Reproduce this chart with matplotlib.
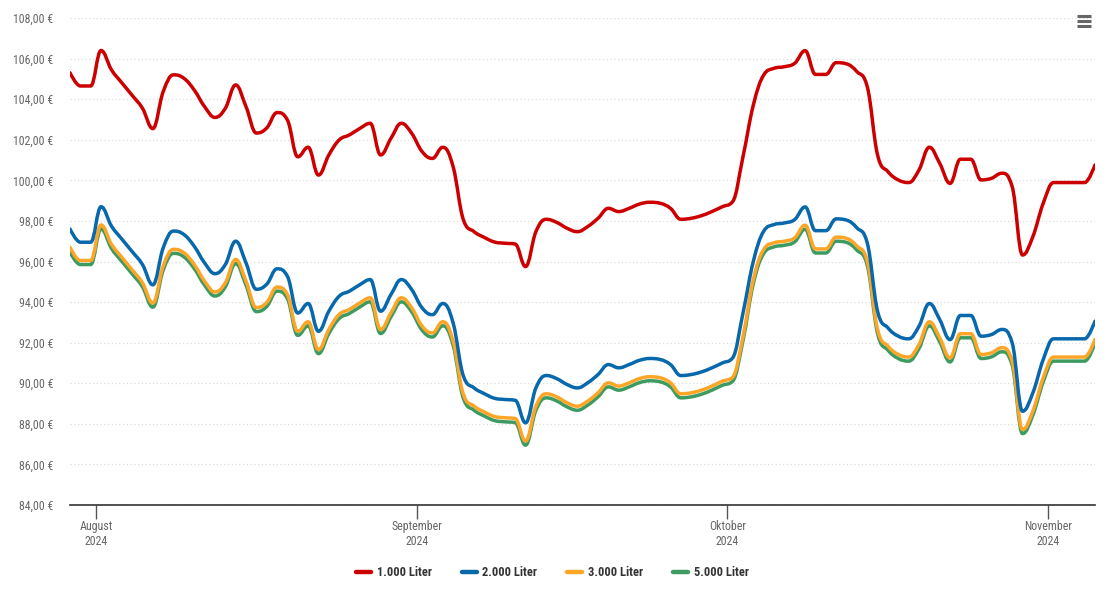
import numpy as np
import pandas as pd
import matplotlib
matplotlib.use("Agg")
import matplotlib.pyplot as plt
import matplotlib.dates as mdates
from matplotlib.path import Path
from matplotlib.patches import PathPatch
from matplotlib.lines import Line2D
from matplotlib import font_manager

# ---------------- data ----------------
start_date = "2024-07-29 12:00"
n_days = 100

series_names = ["1.000 Liter", "2.000 Liter", "3.000 Liter", "5.000 Liter"]
series_colors = ["#cc0000", "#0868ac", "#fca526", "#3d9b62"]

liter_1000 = [105.30, 104.65, 104.65, 106.40, 105.45, 104.81, 104.19, 103.55, 102.55, 104.37,
              105.20, 105.03, 104.45, 103.63, 103.10, 103.55, 104.70, 103.63, 102.33, 102.58,
              103.34, 102.97, 101.16, 101.63, 100.26, 101.25, 101.99, 102.24, 102.56, 102.81,
              101.25, 102.07, 102.81, 102.32, 101.42, 101.08, 101.63, 100.68, 98.05, 97.48,
              97.19, 96.96, 96.90, 96.86, 95.75, 97.47, 98.08, 97.93, 97.64, 97.47,
              97.72, 98.13, 98.62, 98.46, 98.62, 98.83, 98.92, 98.87, 98.62, 98.08,
              98.13, 98.26, 98.46, 98.70, 98.95, 101.16, 103.71, 105.19, 105.52, 105.60,
              105.77, 106.39, 105.22, 105.22, 105.80, 105.74, 105.36, 104.62, 101.25, 100.43,
              100.02, 99.89, 100.51, 101.63, 100.84, 99.85, 101.04, 101.04, 100.02, 100.10,
              100.35, 99.69, 96.32, 97.23, 98.87, 99.89, 99.89, 99.89, 99.89, 100.76]

liter_2000 = [97.60, 96.95, 96.95, 98.70, 97.75, 97.11, 96.49, 95.85, 94.85, 96.67,
              97.50, 97.33, 96.75, 95.93, 95.40, 95.85, 97.00, 95.93, 94.63, 94.88,
              95.64, 95.27, 93.46, 93.93, 92.56, 93.55, 94.29, 94.54, 94.86, 95.11,
              93.55, 94.37, 95.11, 94.62, 93.72, 93.38, 93.93, 92.98, 90.35, 89.78,
              89.49, 89.26, 89.20, 89.16, 88.05, 89.77, 90.38, 90.23, 89.94, 89.77,
              90.02, 90.43, 90.92, 90.76, 90.92, 91.13, 91.22, 91.17, 90.92, 90.38,
              90.43, 90.56, 90.76, 91.00, 91.25, 93.46, 96.01, 97.49, 97.82, 97.90,
              98.07, 98.69, 97.52, 97.52, 98.10, 98.04, 97.66, 96.92, 93.55, 92.73,
              92.32, 92.19, 92.81, 93.93, 93.14, 92.15, 93.34, 93.34, 92.32, 92.40,
              92.65, 91.99, 88.62, 89.53, 91.17, 92.19, 92.19, 92.19, 92.19, 93.06]

liter_3000 = [96.70, 96.05, 96.05, 97.80, 96.85, 96.21, 95.59, 94.95, 93.95, 95.77,
              96.60, 96.43, 95.85, 95.03, 94.50, 94.95, 96.10, 95.03, 93.73, 93.98,
              94.74, 94.37, 92.56, 93.03, 91.66, 92.65, 93.39, 93.64, 93.96, 94.21,
              92.65, 93.47, 94.21, 93.72, 92.82, 92.48, 93.03, 92.08, 89.45, 88.88,
              88.59, 88.36, 88.30, 88.26, 87.15, 88.87, 89.48, 89.33, 89.04, 88.87,
              89.12, 89.53, 90.02, 89.86, 90.02, 90.23, 90.32, 90.27, 90.02, 89.48,
              89.53, 89.66, 89.86, 90.10, 90.30, 92.30, 95.11, 96.59, 96.92, 97.00,
              97.17, 97.79, 96.62, 96.62, 97.20, 97.14, 96.76, 96.02, 92.65, 91.83,
              91.42, 91.29, 91.91, 93.03, 92.24, 91.25, 92.44, 92.44, 91.42, 91.50,
              91.75, 91.09, 87.72, 88.63, 90.27, 91.29, 91.29, 91.29, 91.29, 92.16]

liter_5000 = [96.45, 95.85, 95.85, 97.60, 96.65, 96.01, 95.39, 94.75, 93.75, 95.57,
              96.40, 96.23, 95.65, 94.83, 94.30, 94.75, 95.90, 94.83, 93.53, 93.78,
              94.54, 94.17, 92.36, 92.83, 91.46, 92.45, 93.19, 93.44, 93.76, 94.01,
              92.45, 93.27, 94.01, 93.52, 92.62, 92.28, 92.83, 91.88, 89.25, 88.68,
              88.39, 88.16, 88.10, 88.06, 86.95, 88.67, 89.28, 89.13, 88.84, 88.67,
              88.92, 89.33, 89.82, 89.66, 89.82, 90.03, 90.12, 90.07, 89.82, 89.28,
              89.33, 89.46, 89.66, 89.90, 90.10, 92.10, 94.91, 96.39, 96.72, 96.80,
              96.97, 97.59, 96.42, 96.42, 97.00, 96.94, 96.56, 95.82, 92.45, 91.63,
              91.22, 91.09, 91.71, 92.83, 92.04, 91.05, 92.24, 92.24, 91.22, 91.30,
              91.55, 90.89, 87.52, 88.43, 90.07, 91.09, 91.09, 91.09, 91.09, 91.96]

month_ticks = ["2024-08-01", "2024-09-01", "2024-10-01", "2024-11-01"]
month_labels = ["August\n2024", "September\n2024", "Oktober\n2024", "November\n2024"]
y_ticks = list(range(84, 109, 2))

# ---------------- helpers ----------------
def spline_path(xs, ys, smoothing=1.5):
    """Highcharts-style spline through the data points (bezier path)."""
    n = len(xs)
    denom = smoothing + 1
    lc = [None] * n
    rc = [None] * n
    for i in range(1, n - 1):
        lx, ly = xs[i - 1], ys[i - 1]
        nx, ny = xs[i + 1], ys[i + 1]
        px, py = xs[i], ys[i]
        lcx = (smoothing * px + lx) / denom
        lcy = (smoothing * py + ly) / denom
        rcx = (smoothing * px + nx) / denom
        rcy = (smoothing * py + ny) / denom
        if rcx != lcx:
            corr = ((rcy - lcy) * (rcx - px)) / (rcx - lcx) + py - rcy
            lcy += corr
            rcy += corr
        if lcy > ly and lcy > py:
            lcy = max(ly, py); rcy = 2 * py - lcy
        elif lcy < ly and lcy < py:
            lcy = min(ly, py); rcy = 2 * py - lcy
        if rcy > ny and rcy > py:
            rcy = max(ny, py); lcy = 2 * py - rcy
        elif rcy < ny and rcy < py:
            rcy = min(ny, py); lcy = 2 * py - rcy
        lc[i] = (lcx, lcy)
        rc[i] = (rcx, rcy)
    verts = [(xs[0], ys[0])]
    codes = [Path.MOVETO]
    for i in range(1, n):
        c1 = rc[i - 1] if rc[i - 1] is not None else (xs[i - 1], ys[i - 1])
        c2 = lc[i] if lc[i] is not None else (xs[i], ys[i])
        verts += [c1, c2, (xs[i], ys[i])]
        codes += [Path.CURVE4] * 3
    return Path(verts, codes)

# ---------------- fonts ----------------
available = {f.name for f in font_manager.fontManager.ttflist}
preferred = [f for f in ['Liberation Sans Narrow', 'DejaVu Sans Condensed', 'Roboto Condensed',
                         'Open Sans Condensed', 'Liberation Sans'] if f in available]
plt.rcParams['font.family'] = preferred + ['DejaVu Sans']

fig = plt.figure(figsize=(11.05, 6.03), dpi=100)
ax = fig.add_axes([70 / 1105, 1 - 505 / 603, 1025 / 1105, 487 / 603])

dates = pd.date_range(start_date, periods=n_days, freq="D")
xnum = mdates.date2num(dates.to_pydatetime())

all_series = [liter_1000, liter_2000, liter_3000, liter_5000]
for vals, col in list(zip(all_series, series_colors))[::-1]:
    p = spline_path(list(xnum), list(vals))
    patch = PathPatch(p, fill=False, edgecolor=col, lw=2.5, transform=ax.transData,
                      capstyle='round', joinstyle='round', zorder=3)
    ax.add_patch(patch)

ax.set_xlim(xnum[0], xnum[-1])
ax.set_ylim(84, 108)

ax.set_yticks(y_ticks)
ax.set_yticklabels([f"{v:.2f}".replace('.', ',') + " €" for v in y_ticks])
ax.yaxis.grid(True, color='#dddddd', linestyle=(0, (1, 2)), lw=0.9)
ax.tick_params(axis='y', length=0, pad=12, labelsize=8.6, labelcolor='#666666')

tick_pos = mdates.date2num(pd.to_datetime(month_ticks).to_pydatetime())
ax.set_xticks(tick_pos)
ax.set_xticklabels(month_labels, linespacing=1.15)
ax.tick_params(axis='x', length=10, width=1, color='#555555', pad=1,
               labelsize=8.6, labelcolor='#666666', direction='out')

for s in ['top', 'right', 'left']:
    ax.spines[s].set_visible(False)
ax.spines['bottom'].set_color('#333333')
ax.spines['bottom'].set_linewidth(1.2)
ax.set_axisbelow(True)

handles = [Line2D([0], [0], color=c, lw=3.2, solid_capstyle='round') for c in series_colors]
leg = fig.legend(handles, series_names, loc='center', bbox_to_anchor=(0.5, 1 - 573 / 603),
                 ncol=4, frameon=False, handlelength=1.2, handletextpad=0.45, columnspacing=2.4,
                 prop={'size': 9.0, 'weight': 'bold'})
for t in leg.get_texts():
    t.set_color('#333333')

# hamburger menu icon
for yy in (16, 21, 26):
    fig.add_artist(Line2D([1077 / 1105, 1091 / 1105], [1 - yy / 603, 1 - yy / 603],
                          color='#666666', lw=2.2, solid_capstyle='butt'))

fig.savefig("out.png", dpi=100)
